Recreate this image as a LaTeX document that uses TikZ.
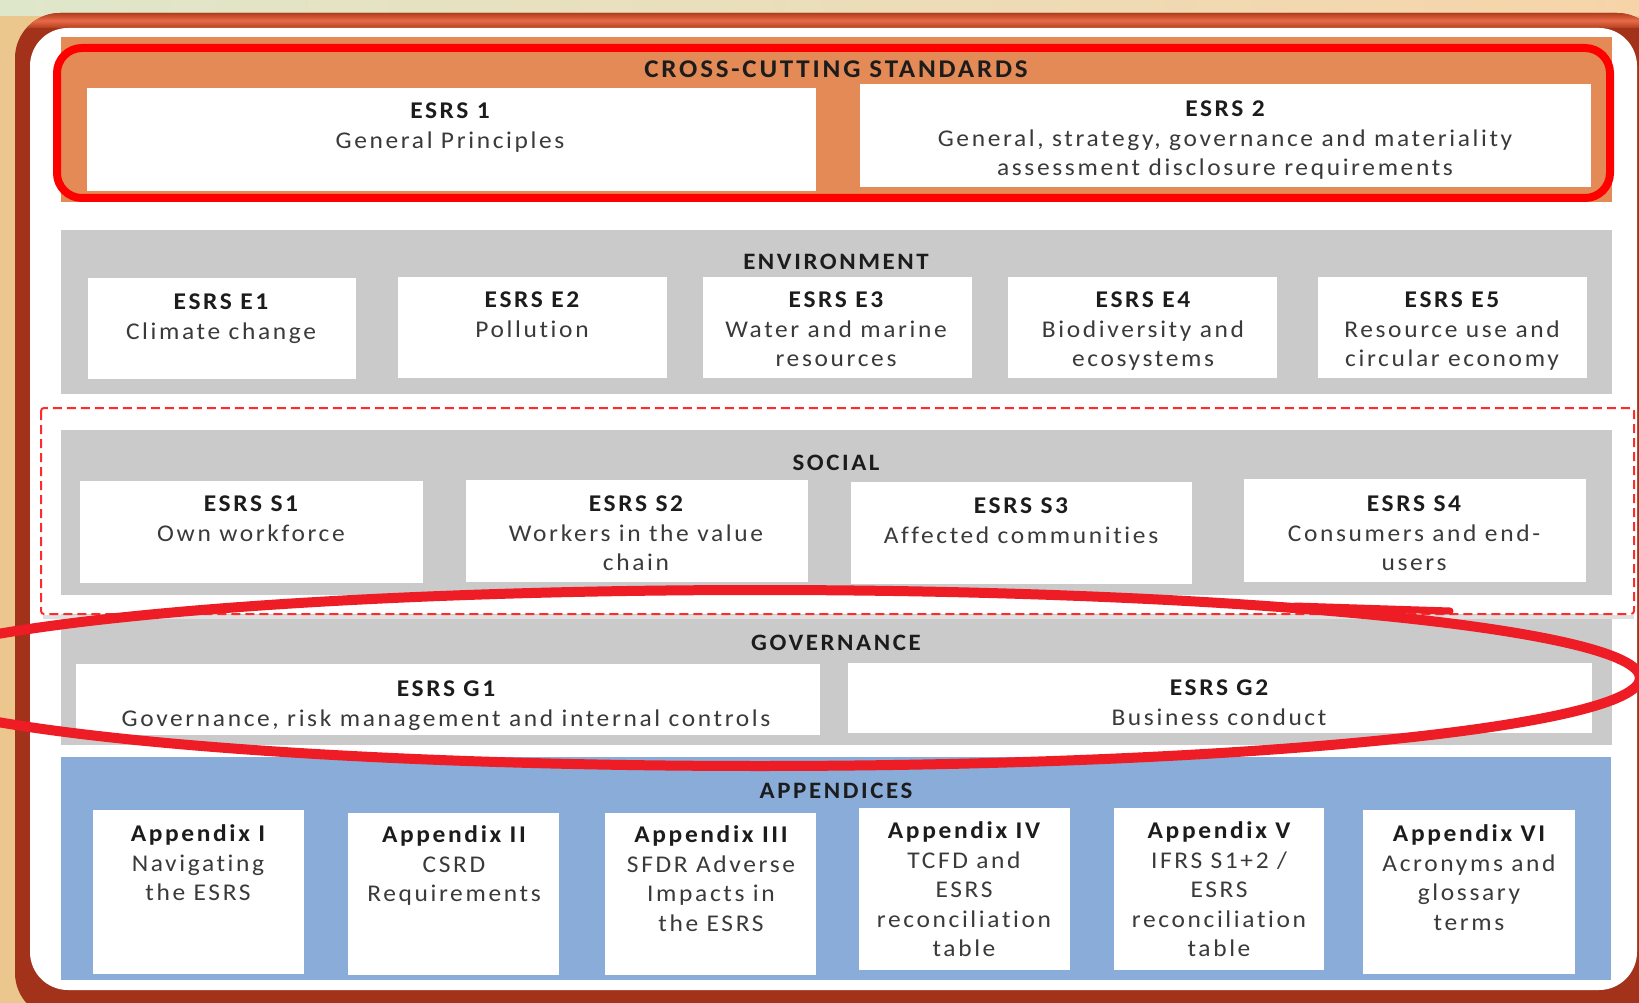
\documentclass[tikz,border=0pt]{standalone}
\usepackage{fontspec}
\newfontfamily\cf[LetterSpace=11,FakeStretch=1.06,Ligatures=NoCommon]{Carlito}
\definecolor{bgtan}{HTML}{EBC78E}
\definecolor{bgpeach}{HTML}{F7D4A8}
\definecolor{bggreen}{HTML}{DFE7CB}
\definecolor{frbrown}{HTML}{A2321A}
\definecolor{frlight}{HTML}{E96B49}
\definecolor{frdark}{HTML}{B23E1E}
\definecolor{orband}{HTML}{E48A56}
\definecolor{grband}{HTML}{CACACA}
\definecolor{blband}{HTML}{89ACD9}
\definecolor{redline}{HTML}{FF0000}
\definecolor{ellred}{HTML}{EE1C25}
\definecolor{dashred}{HTML}{FF2A2A}
\definecolor{txtc}{HTML}{3A3A3A}
\definecolor{hdc}{HTML}{1C1C1C}
\newcommand\hd[1]{\textcolor{hdc}{\bfseries #1}}
\newcommand\wbx[4]{\fill[white] (#1,#2) rectangle (#3,#4);}
\begin{document}
\begin{tikzpicture}[x=1pt,y=-1pt,
  txt/.style={anchor=north, align=center, inner sep=0pt, text=txtc, yshift=-1.5pt,
    font=\cf\fontsize{24}{29.5}\selectfont},
  ttl/.style={txt, font=\cf\fontsize{#1}{29.5}\selectfont},
  band/.style={fill=#1}]
\useasboundingbox (0,0) rectangle (1639,1003);
% background outside frame
\fill[bgtan] (0,0) rectangle (1639,1003);
\shade[left color=bggreen, right color=bgpeach] (0,0) rectangle (1639,16);
% frame
\fill[frbrown, rounded corners=45] (15,13) rectangle (1662,1018);
\begin{scope}
  \clip[rounded corners=45] (15,13) rectangle (1662,1018);
  \shade[top color=frdark, bottom color=frdark, middle color=frlight] (15,13) rectangle (1662,28);
\end{scope}
\fill[white, rounded corners=38] (30,28) rectangle (1637,990);
% bands
\fill[band=orband] (61,37) rectangle (1612,202);
\fill[band=grband] (61,230) rectangle (1612,394);
\fill[band=grband] (61,430) rectangle (1612,595);
\fill[band=grband] (61,614) rectangle (1612,745);
\fill[band=blband] (61,757) rectangle (1611,980);
% white boxes
\wbx{87}{88}{816}{191}
\wbx{860}{84}{1591}{187}
\wbx{88}{278}{356}{379}
\wbx{398}{277}{667}{378}
\wbx{703}{277}{972}{378}
\wbx{1008}{277}{1277}{378}
\wbx{1318}{277}{1587}{378}
\wbx{80}{481}{423}{583}
\wbx{466}{480}{808}{582}
\wbx{851}{482}{1192}{584}
\wbx{1244}{479}{1586}{582}
\wbx{76}{664}{820}{735}
\wbx{848}{663}{1592}{733}
\wbx{93}{810}{304}{974}
\wbx{348}{813}{559}{975}
\wbx{605}{813}{816}{975}
\wbx{859}{808}{1070}{970}
\wbx{1114}{808}{1324}{970}
\wbx{1363}{810}{1575}{974}
% titles
\node[ttl=25.5] (tcross) at (836,55.4) {\strut\hd{CROSS-CUTTING STANDARDS}};
\node[ttl=23.5] (tenv) at (836,247.4) {\strut\hd{ENVIRONMENT}};
\node[ttl=23.5] (tsoc) at (836,448.4) {\strut\hd{SOCIAL}};
\node[ttl=23.5] (tgov) at (836,628.4) {\strut\hd{GOVERNANCE}};
\node[ttl=23.5] (tapp) at (836,776.4) {\strut\hd{APPENDICES}};
% cross-cutting
\node[txt] (esrs1) at (450,96.4) {\strut\hd{ESRS 1}\\General Principles};
\node[txt] (esrs2) at (1225,94.5) {\strut\hd{ESRS 2}\\General, strategy, governance and materiality\\assessment disclosure requirements};
% environment
\node[txt] (e1) at (221,287.4) {\strut\hd{ESRS E1}\\Climate change};
\node[txt] (e2) at (532,285.4) {\strut\hd{ESRS E2}\\Pollution};
\node[txt] (e3) at (836,285.4) {\strut\hd{ESRS E3}\\Water and marine\\resources};
\node[txt] (e4) at (1143,285.4) {\strut\hd{ESRS E4}\\Biodiversity and\\ecosystems};
\node[txt] (e5) at (1452,285.4) {\strut\hd{ESRS E5}\\Resource use and\\circular economy};
% social
\node[txt] (s1) at (251,489.4) {\strut\hd{ESRS S1}\\Own workforce};
\node[txt] (s2) at (636,489.4) {\strut\hd{ESRS S2}\\Workers in the value\\chain};
\node[txt] (s3) at (1021,491.4) {\strut\hd{ESRS S3}\\Affected communities};
\node[txt] (s4) at (1414,489.4) {\strut\hd{ESRS S4}\\Consumers and end-\\users};
% governance
\node[txt] (g1) at (446,674.4) {\strut\hd{ESRS G1}\\Governance, risk management and internal controls};
\node[txt] (g2) at (1219,673.4) {\strut\hd{ESRS G2}\\Business conduct};
% appendices
\node[txt] (a1) at (198,819.4) {\strut\hd{Appendix I}\\Navigating\\the ESRS};
\node[txt] (a2) at (454,820.4) {\strut\hd{Appendix II}\\CSRD\\Requirements};
\node[txt] (a3) at (711,820.4) {\strut\hd{Appendix III}\\SFDR Adverse\\Impacts in\\the ESRS};
\node[txt] (a4) at (964,816.4) {\strut\hd{Appendix IV}\\TCFD and\\ESRS\\reconciliation\\table};
\node[txt] (a5) at (1219,816.4) {\strut\hd{Appendix V}\\IFRS S1+2 /\\ESRS\\reconciliation\\table};
\node[txt] (a6) at (1469,819.4) {\strut\hd{Appendix VI}\\Acronyms and\\glossary\\terms};
% highlights
\fill[black!12] (43,615) rectangle (1634,619);
\draw[redline, line width=8, rounded corners=25] (57,48) rectangle (1610,198);
\draw[dashred, line width=2, dash pattern=on 9 off 5, rounded corners=3] (41,408) rectangle (1634,614);
\draw[ellred, line width=10] (760,678) ellipse [x radius=880, y radius=88];
\draw[ellred, line width=7, line cap=round] (1295,606) -- (1450,611);
\end{tikzpicture}
\end{document}
